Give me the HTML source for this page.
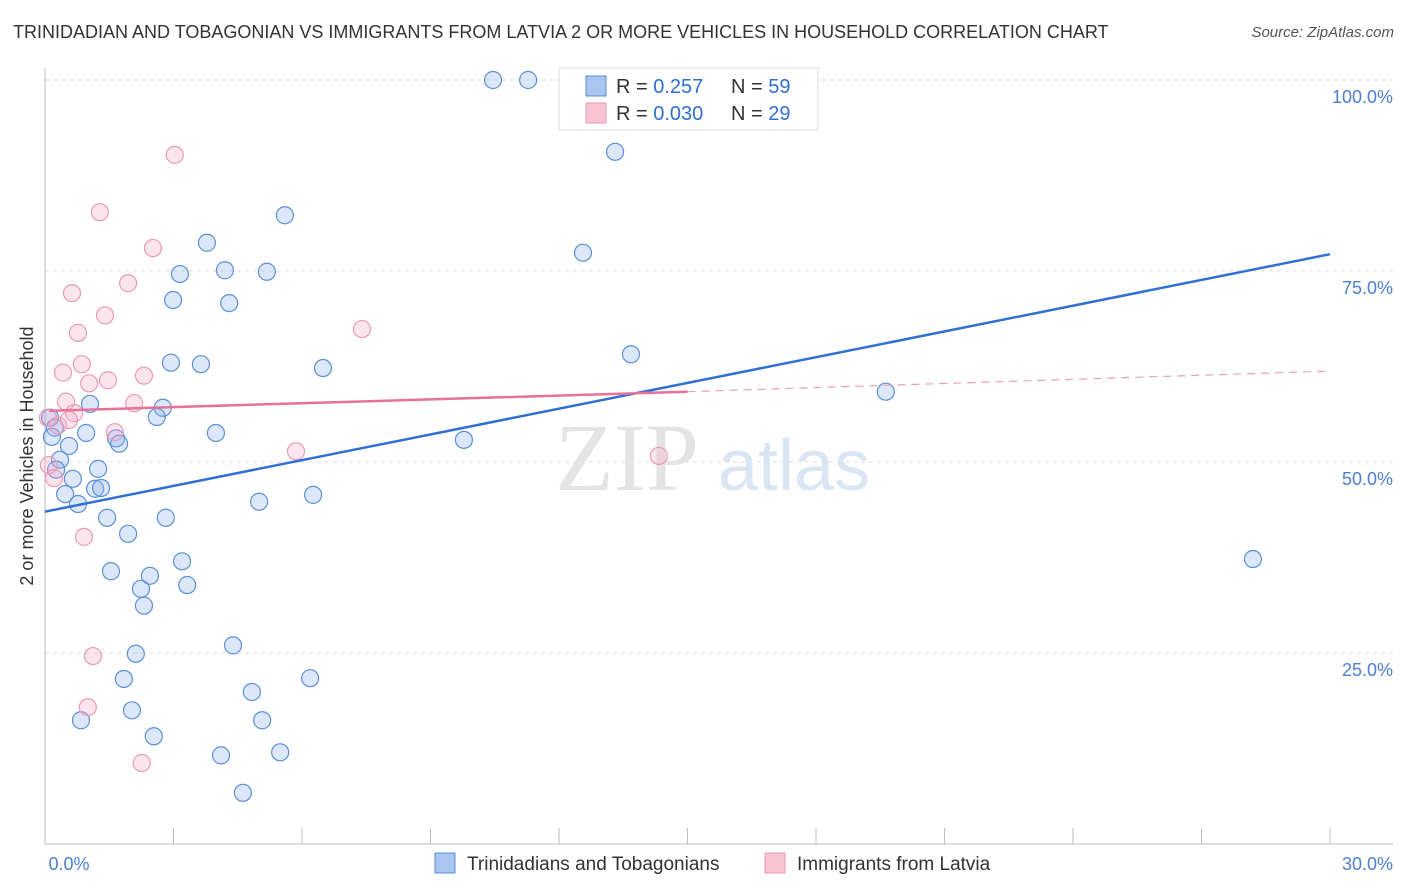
<!DOCTYPE html>
<html><head><meta charset="utf-8"><style>
body{margin:0;background:#fff;font-family:"Liberation Sans",sans-serif;}
#wrap{position:relative;width:1406px;height:892px;overflow:hidden}
.title{position:absolute;left:13px;top:22px;font-size:18px;color:#333}
.src{position:absolute;right:12px;top:24px;font-size:15px;color:#555;font-style:italic}
</style></head><body>
<div id="wrap">
<div class="title">TRINIDADIAN AND TOBAGONIAN VS IMMIGRANTS FROM LATVIA 2 OR MORE VEHICLES IN HOUSEHOLD CORRELATION CHART</div>
<div class="src">Source: ZipAtlas.com</div>
<svg id="svg" width="1406" height="892" style="position:absolute;left:0;top:0"></svg>
</div>
<script>
const blueX=[10.46,11.28,13.31,5.60,3.78,12.56,3.15,4.20,5.18,2.99,4.30,13.68,2.94,3.64,6.49,19.63,1.05,2.75,2.61,0.12,0.23,0.96,3.99,1.66,1.73,9.78,0.56,0.16,0.35,0.26,1.24,0.65,0.47,1.17,1.31,6.26,5.00,0.77,1.45,2.82,1.94,28.20,3.20,1.54,2.45,2.24,3.32,2.31,4.39,2.12,1.84,6.19,4.83,2.03,0.84,5.07,2.54,4.11,5.49,4.62];
const blueY=[100,100,90.6,82.3,78.7,77.4,74.6,75.1,74.9,71.2,70.8,64.1,63.0,62.8,62.3,59.2,57.6,57.1,55.9,55.8,54.5,53.8,53.8,53.1,52.4,52.9,52.1,53.3,50.3,49.0,49.1,47.8,45.8,46.5,46.6,45.7,44.8,44.5,42.7,42.7,40.6,37.3,37.0,35.7,35.1,33.4,33.9,31.2,26.0,24.9,21.6,21.7,19.9,17.5,16.2,16.2,14.1,11.6,12.0,6.7];
const pinkX=[3.03,1.28,2.52,0.63,1.94,0.77,1.40,7.40,0.86,0.42,2.31,1.03,1.47,0.49,2.08,0.68,0.07,0.30,0.56,1.63,5.86,14.33,0.09,0.21,0.91,1.12,1.00,2.26];
const pinkY=[90.2,82.7,78.0,72.1,73.4,66.9,69.2,67.4,62.8,61.7,61.3,60.3,60.7,57.9,57.7,56.4,55.8,54.8,55.5,53.9,51.4,50.8,49.6,47.9,40.2,24.6,17.9,10.6];
const blueTrend=[43.5,77.2];
const pinkTrend=[56.7,59.2,61.9];
const yTicks=[25,50,75,100];
const xTickLabels=["0.0%","30.0%"];

const svg=document.getElementById('svg');const NS="http://www.w3.org/2000/svg";
const X=v=>45+v/30*1285, Y=v=>844-v/25*191;
function mk(t,a,p){const e=document.createElementNS(NS,t);for(const k in a)e.setAttribute(k,a[k]);(p||svg).appendChild(e);return e;}
yTicks.forEach(t=>{const g=mk('line',{x1:45,x2:1393,y1:Y(t),y2:Y(t),stroke:'#ddd','stroke-dasharray':'4,4'});


const l=mk('text',{x:1393,y:Y(t)+23,'text-anchor':'end','font-size':18,fill:'#4a7fd4','font-family':'Liberation Sans'});l.textContent=t.toFixed(1)+'%';

});
const ax=mk('line',{x1:45,x2:1393,y1:844,y2:844,stroke:'#bbb'});
const ay=mk('line',{x1:45,x2:45,y1:68,y2:844,stroke:'#bbb'});
for(let i=1;i<=10;i++){const tk=mk('line',{x1:45+i*128.5,x2:45+i*128.5,y1:828,y2:844,stroke:'#bbb'});}
[[69,xTickLabels[0],'middle'],[1393,xTickLabels[1],'end']].forEach(([x,s,a])=>{const t=mk('text',{x:x,y:870,'text-anchor':a,'font-size':18,fill:'#4a7fd4'});t.textContent=s;});
const w=mk('text',{x:555,y:490,'font-size':96,fill:'#e4e4e4','font-family':'Liberation Serif'});w.textContent='ZIP';
const w2=mk('text',{x:718,y:490,'font-size':72,fill:'#dbe6f5'});w2.textContent='atlas';
const yt=mk('text',{x:0,y:0,transform:'translate(33,456) rotate(-90)','text-anchor':'middle','font-size':18,fill:'#333'});yt.textContent='2 or more Vehicles in Household';
blueX.forEach((v,i)=>{const c=mk('circle',{cx:X(v),cy:Y(blueY[i]),r:8.5,fill:'rgba(140,180,235,0.3)',stroke:'#5b8fd9','stroke-width':1.2});

});
pinkX.forEach((v,i)=>{const c=mk('circle',{cx:X(v),cy:Y(pinkY[i]),r:8.5,fill:'rgba(245,170,195,0.3)',stroke:'#ec9ab5','stroke-width':1.2});

});
const bl=mk('line',{x1:X(0),y1:Y(blueTrend[0]),x2:X(30),y2:Y(blueTrend[1]),stroke:'#2f6fd6','stroke-width':2.5});
const pl=mk('line',{x1:X(0.1),y1:Y(pinkTrend[0]),x2:X(15),y2:Y(pinkTrend[1]),stroke:'#e8709a','stroke-width':2.5});
const pd=mk('line',{x1:X(15),y1:Y(pinkTrend[1]),x2:X(30),y2:Y(pinkTrend[2]),stroke:'#e8a0b8','stroke-width':1.2,'stroke-dasharray':'8,6'});
const lb=mk('rect',{x:559,y:68,width:259,height:62,fill:'#fff',stroke:'#ddd'});
[[86,'#a9c6f0','#5b8fd9','0.257','59'],[113,'#f8c3d3','#ec9ab5','0.030','29']].forEach(([y,f,s,r,n])=>{
const sq=mk('rect',{x:586,y:y-10,width:20,height:20,fill:f,stroke:s});
const t=mk('text',{x:616,y:y+7,'font-size':20,fill:'#333'});t.innerHTML='R = <tspan fill="#2f6fd6"> '+r+'</tspan><tspan x="731">N = </tspan><tspan fill="#2f6fd6">'+n+'</tspan>';
});
[[435,'#a9c6f0','#5b8fd9','Trinidadians and Tobagonians'],[765,'#f8c3d3','#ec9ab5','Immigrants from Latvia']].forEach(([x,f,s,l])=>{
const sq=mk('rect',{x:x,y:853,width:20,height:20,fill:f,stroke:s});
const t=mk('text',{x:x+32,y:870,'font-size':19,fill:'#333'});t.textContent=l;});
</script></body></html>
